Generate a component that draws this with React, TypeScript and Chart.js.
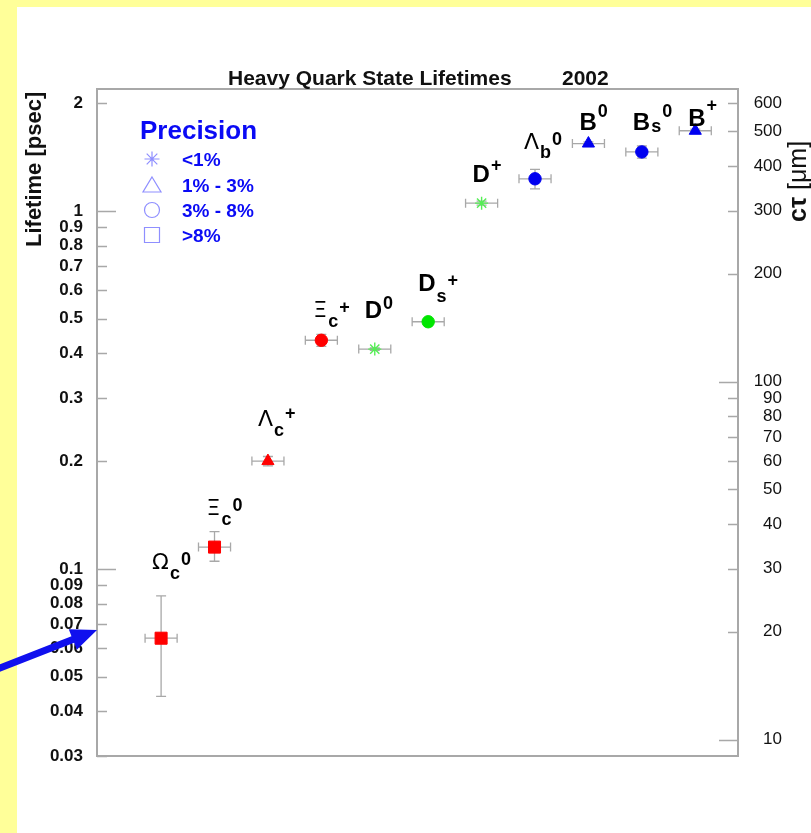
import React, { useEffect, useRef } from 'react';
import { Chart, registerables } from 'chart.js';

Chart.register(...registerables);

// ---------------- data ----------------
const particleNames = ['Ωc0', 'Ξc0', 'Λc+', 'Ξc+', 'D0', 'Ds+', 'D+', 'Λb0', 'B0', 'Bs0', 'B+'];
const labelMain = ['Ω', 'Ξ', 'Λ', 'Ξ', 'D', 'D', 'D', 'Λ', 'B', 'B', 'B'];
const labelSub = ['c', 'c', 'c', 'c', '', 's', '', 'b', '', 's', ''];
const labelSup = ['0', '0', '+', '+', '0', '+', '+', '0', '0', '0', '+'];
const xIndex = [1, 2, 3, 4, 5, 6, 7, 8, 9, 10, 11];
const lifetimes = [0.064, 0.115, 0.2, 0.435, 0.411, 0.49, 1.051, 1.229, 1.542, 1.461, 1.674];
const errUp = [0.02, 0.012, 0.006, 0.017, 0.003, 0.009, 0.013, 0.077, 0.016, 0.057, 0.018];
const errDown = [0.02, 0.01, 0.006, 0.017, 0.003, 0.009, 0.013, 0.077, 0.016, 0.057, 0.018];
const xHalfWidth = 0.3;
const precisionClass = ['>8%', '>8%', '1-3%', '3-8%', '<1%', '3-8%', '<1%', '3-8%', '1-3%', '3-8%', '1-3%'];
const hadronGroup = ['cBaryon', 'cBaryon', 'cBaryon', 'cBaryon', 'cMeson', 'cMeson', 'cMeson', 'bHadron', 'bHadron', 'bHadron', 'bHadron'];

const legendTitle = 'Precision';
const legendClasses = ['<1%', '1-3%', '3-8%', '>8%'];
const legendLabels = ['<1%', '1% - 3%', '3% - 8%', '>8%'];

const leftTicks = [0.03, 0.04, 0.05, 0.06, 0.07, 0.08, 0.09, 0.1, 0.2, 0.3, 0.4, 0.5, 0.6, 0.7, 0.8, 0.9, 1, 2];
const leftTickLabels = ['0.03', '0.04', '0.05', '0.06', '0.07', '0.08', '0.09', '0.1', '0.2', '0.3', '0.4', '0.5', '0.6', '0.7', '0.8', '0.9', '1', '2'];
const rightTicks = [10, 20, 30, 40, 50, 60, 70, 80, 90, 100, 200, 300, 400, 500, 600];
const rightTickLabels = ['10', '20', '30', '40', '50', '60', '70', '80', '90', '100', '200', '300', '400', '500', '600'];

const titleText = 'Heavy Quark State Lifetimes';
const titleYear = '2002';
const yTitle = 'Lifetime [psec]';
const y2TitleBold = 'cτ';
const y2TitleRest = ' [μm]';

const Y_MIN = 0.03;
const Y_MAX = 2.19;
const CT_UM_PER_PS = 299.792458;

// ---------------- styles / layout ----------------
const W = 811;
const H = 833;
const FONT = '"Liberation Sans", Arial, Helvetica, sans-serif';
const GREEK_FONT = '"DejaVu Sans", "Liberation Sans", sans-serif';
const groupColor: Record<string, string> = { cBaryon: '#ff0000', cMeson: '#00e600', bHadron: '#0000f0' };
const starColor = '#55ee55';
const styleOf: Record<string, string> = { '<1%': 'star', '1-3%': 'triangle', '3-8%': 'circle', '>8%': 'rect' };
const radiusOf: Record<string, number> = { star: 6.5, triangle: 7, circle: 6.2, rect: 8.5 };
// [dx, dy(baseline), subDrop, supRaise] relative to point pixel
const labelLayout: number[][] = [
  [-9, -69, 10, 4],
  [-8, -32, 10, 4],
  [-10, -35, 10, 7],
  [-8, -23, 10, 4],
  [-10, -31, 0, 9],
  [-10, -31, 11, 5],
  [-9, -21, 0, 11],
  [-11, -30, 9, 4],
  [-9, -14, 0, 13],
  [-9, -22, 2, 13],
  [-7, -5, 0, 15],
];

function drawLegendSymbol(ctx: CanvasRenderingContext2D, kind: string, x: number, y: number) {
  ctx.beginPath();
  if (kind === 'star') {
    const r = 7.5;
    for (let k = 0; k < 4; k++) {
      const a = (k * Math.PI) / 4;
      ctx.moveTo(x - r * Math.cos(a), y - r * Math.sin(a));
      ctx.lineTo(x + r * Math.cos(a), y + r * Math.sin(a));
    }
    ctx.stroke();
    ctx.beginPath();
    ctx.arc(x, y, 1.3, 0, Math.PI * 2);
    ctx.fill();
    return;
  }
  if (kind === 'triangle') {
    ctx.moveTo(x, y - 8);
    ctx.lineTo(x + 9, y + 7);
    ctx.lineTo(x - 9, y + 7);
    ctx.closePath();
  } else if (kind === 'circle') {
    ctx.arc(x, y, 7.5, 0, Math.PI * 2);
  } else {
    ctx.rect(x - 7.5, y - 7.5, 15, 15);
  }
  ctx.stroke();
}

const overlayPlugin = {
  id: 'overlay',
  beforeDraw(chart: any) {
    const ctx = chart.ctx as CanvasRenderingContext2D;
    ctx.save();
    ctx.fillStyle = '#ffff99';
    ctx.fillRect(0, 0, chart.width, chart.height);
    ctx.fillStyle = '#ffffff';
    ctx.fillRect(17, 7, chart.width - 17, chart.height - 7);
    ctx.restore();
  },
  beforeDatasetsDraw(chart: any) {
    const ctx = chart.ctx as CanvasRenderingContext2D;
    const xs = chart.scales.x;
    const ys = chart.scales.y;
    ctx.save();
    ctx.strokeStyle = '#a8a8a8';
    ctx.lineWidth = 1.3;
    for (let i = 0; i < lifetimes.length; i++) {
      const px = xs.getPixelForValue(xIndex[i]);
      const py = ys.getPixelForValue(lifetimes[i]);
      const xl = xs.getPixelForValue(xIndex[i] - xHalfWidth);
      const xr = xs.getPixelForValue(xIndex[i] + xHalfWidth);
      const yt = ys.getPixelForValue(lifetimes[i] + errUp[i]);
      const yb = ys.getPixelForValue(lifetimes[i] - errDown[i]);
      ctx.beginPath();
      ctx.moveTo(xl, py); ctx.lineTo(xr, py);
      ctx.moveTo(xl, py - 4.5); ctx.lineTo(xl, py + 4.5);
      ctx.moveTo(xr, py - 4.5); ctx.lineTo(xr, py + 4.5);
      ctx.moveTo(px, yt); ctx.lineTo(px, yb);
      ctx.moveTo(px - 5, yt); ctx.lineTo(px + 5, yt);
      ctx.moveTo(px - 5, yb); ctx.lineTo(px + 5, yb);
      ctx.stroke();
    }
    ctx.restore();
  },
  afterDraw(chart: any) {
    const ctx = chart.ctx as CanvasRenderingContext2D;
    const area = chart.chartArea;
    const xs = chart.scales.x;
    const ys = chart.scales.y;
    const y2 = chart.scales.y2;
    ctx.save();

    // inner tick marks
    ctx.strokeStyle = '#a8a8a8';
    ctx.lineWidth = 1.3;
    ctx.beginPath();
    leftTicks.forEach((v) => {
      const p = Math.round(ys.getPixelForValue(v)) + 0.5;
      const major = Math.abs(Math.log10(v) - Math.round(Math.log10(v))) < 1e-9;
      ctx.moveTo(area.left, p);
      ctx.lineTo(area.left + (major ? 19 : 10), p);
    });
    rightTicks.forEach((v) => {
      const p = Math.round(y2.getPixelForValue(v)) + 0.5;
      const major = Math.abs(Math.log10(v) - Math.round(Math.log10(v))) < 1e-9;
      ctx.moveTo(area.right, p);
      ctx.lineTo(area.right - (major ? 19 : 10), p);
    });
    ctx.stroke();

    // title
    ctx.fillStyle = '#111';
    ctx.textBaseline = 'alphabetic';
    ctx.textAlign = 'left';
    ctx.font = `bold 21px ${FONT}`;
    ctx.fillText(titleText, 228, 85);
    ctx.fillText(titleYear, 562, 85);

    // axis titles
    ctx.save();
    ctx.translate(41, 247);
    ctx.rotate(-Math.PI / 2);
    ctx.font = `bold 22px ${FONT}`;
    ctx.fillText(yTitle, 0, 0);
    ctx.restore();

    ctx.save();
    ctx.translate(806, 222);
    ctx.rotate(-Math.PI / 2);
    ctx.font = `bold 25px ${FONT}`;
    ctx.fillText(y2TitleBold, 0, 0);
    const wb = ctx.measureText(y2TitleBold).width;
    ctx.font = `25px ${FONT}`;
    ctx.fillText(y2TitleRest, wb, 0);
    ctx.restore();

    // legend
    ctx.fillStyle = '#0a0af5';
    ctx.font = `bold 26px ${FONT}`;
    ctx.fillText(legendTitle, 140, 139);
    ctx.font = `bold 19px ${FONT}`;
    const rowY = [159, 185, 210, 235];
    legendClasses.forEach((c, k) => {
      ctx.fillStyle = '#0a0af5';
      ctx.fillText(legendLabels[k], 182, rowY[k] + 7);
      ctx.strokeStyle = '#8f8fff';
      ctx.fillStyle = '#8f8fff';
      ctx.lineWidth = 1.2;
      drawLegendSymbol(ctx, styleOf[c], 152, rowY[k]);
    });

    // particle labels
    ctx.fillStyle = '#000';
    for (let i = 0; i < lifetimes.length; i++) {
      const px = xs.getPixelForValue(xIndex[i]);
      const py = ys.getPixelForValue(lifetimes[i]);
      const [dx, dy, subDrop, supRaise] = labelLayout[i];
      const x0 = px + dx;
      const base = py + dy;
      const greek = /[ΩΞΛ]/.test(labelMain[i]);
      ctx.font = greek ? `22px ${GREEK_FONT}` : `bold 24px ${FONT}`;
      ctx.fillText(labelMain[i], x0, base);
      let cx = x0 + ctx.measureText(labelMain[i]).width + 1;
      if (labelSub[i]) {
        ctx.font = `bold 18px ${FONT}`;
        ctx.fillText(labelSub[i], cx, base + subDrop);
        cx += ctx.measureText(labelSub[i]).width + 1;
      }
      if (labelSup[i]) {
        ctx.font = `bold 18px ${FONT}`;
        ctx.fillText(labelSup[i], cx, base - supRaise);
      }
    }

    // arrow pointing at the axis
    const tipX = area.left;
    const tipY = 630;
    const sx = 0;
    const sy = 668;
    const ang = Math.atan2(tipY - sy, tipX - sx);
    const headLen = 26;
    const headHalf = 11;
    const shaftHalf = 3.6;
    const ux = Math.cos(ang), uy = Math.sin(ang);
    const nx = -uy, ny = ux;
    const bx = tipX - ux * headLen, by = tipY - uy * headLen;
    ctx.fillStyle = '#1010ee';
    ctx.beginPath();
    ctx.moveTo(sx - ux * 10 + nx * shaftHalf, sy - uy * 10 + ny * shaftHalf);
    ctx.lineTo(bx + nx * shaftHalf, by + ny * shaftHalf);
    ctx.lineTo(bx + nx * headHalf, by + ny * headHalf);
    ctx.lineTo(tipX, tipY);
    ctx.lineTo(bx - nx * headHalf, by - ny * headHalf);
    ctx.lineTo(bx - nx * shaftHalf, by - ny * shaftHalf);
    ctx.lineTo(sx - ux * 10 - nx * shaftHalf, sy - uy * 10 - ny * shaftHalf);
    ctx.closePath();
    ctx.fill();

    ctx.restore();
  },
};

export default function App() {
  const ref = useRef<HTMLCanvasElement | null>(null);

  useEffect(() => {
    if (!ref.current) return;
    const styles = precisionClass.map((c) => styleOf[c]);
    const colors = precisionClass.map((c, i) => (styleOf[c] === 'star' ? starColor : groupColor[hadronGroup[i]]));
    const axisBorder = { display: true, color: '#a8a8a8', width: 2 };
    const chart = new Chart(ref.current, {
      type: 'scatter',
      data: {
        datasets: [
          {
            label: 'lifetimes',
            data: lifetimes.map((v, i) => ({ x: xIndex[i], y: v })),
            pointStyle: styles as any,
            pointRadius: styles.map((s) => radiusOf[s]),
            pointBackgroundColor: colors,
            pointBorderColor: colors,
            pointBorderWidth: styles.map((s) => (s === 'star' ? 1.4 : 1)),
            showLine: false,
          },
        ],
      },
      options: {
        responsive: false,
        animation: false,
        devicePixelRatio: 1,
        events: [],
        layout: { padding: { top: 89, bottom: 77, left: 0, right: 29 } },
        plugins: { legend: { display: false }, tooltip: { enabled: false }, title: { display: false } },
        scales: {
          x: {
            type: 'linear',
            position: 'bottom',
            min: -0.2,
            max: 11.8,
            ticks: { display: false },
            grid: { display: false, drawTicks: false },
            border: axisBorder,
            afterFit: (s: any) => { s.height = 0; },
          },
          x2: {
            type: 'linear',
            position: 'top',
            min: -0.2,
            max: 11.8,
            ticks: { display: false },
            grid: { display: false, drawTicks: false },
            border: axisBorder,
            afterFit: (s: any) => { s.height = 0; },
          },
          y: {
            type: 'logarithmic',
            position: 'left',
            min: Y_MIN,
            max: Y_MAX,
            afterBuildTicks: (s: any) => { s.ticks = leftTicks.map((v) => ({ value: v })); },
            afterFit: (s: any) => { s.width = 97; },
            ticks: {
              autoSkip: false,
              padding: 14,
              color: '#111',
              font: { family: FONT, size: 17, weight: 'bold' },
              callback: (_v: any, i: number) => leftTickLabels[i],
            },
            grid: { display: false, drawTicks: false },
            border: axisBorder,
          },
          y2: {
            type: 'logarithmic',
            position: 'right',
            min: Y_MIN * CT_UM_PER_PS,
            max: Y_MAX * CT_UM_PER_PS,
            afterBuildTicks: (s: any) => { s.ticks = rightTicks.map((v) => ({ value: v })); },
            afterFit: (s: any) => { s.width = 44; },
            ticks: {
              autoSkip: false,
              crossAlign: 'far',
              padding: 14,
              color: '#111',
              font: { family: FONT, size: 17, weight: 'normal' },
              callback: (_v: any, i: number) => rightTickLabels[i],
            },
            grid: { display: false, drawTicks: false },
            border: axisBorder,
          },
        },
      } as any,
      plugins: [overlayPlugin],
    });
    return () => chart.destroy();
  }, []);

  return (
    <div style={{ position: 'absolute', left: 0, top: 0, width: W, height: H }}>
      <canvas ref={ref} width={W} height={H} style={{ display: 'block' }} aria-label={particleNames.join(', ')} />
    </div>
  );
}
